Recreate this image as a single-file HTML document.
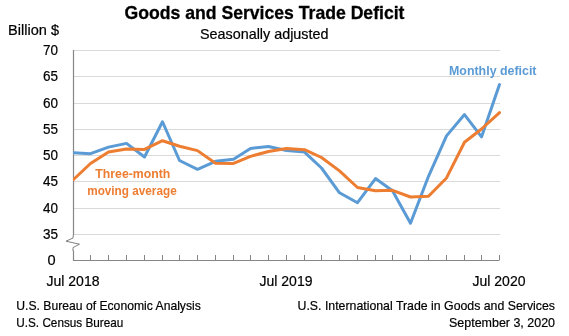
<!DOCTYPE html>
<html><head><meta charset="utf-8"><style>
html,body{margin:0;padding:0;background:#fff;width:569px;height:336px;overflow:hidden}
svg{display:block}
svg{will-change:transform}
</style></head><body>
<svg width="569" height="336" viewBox="0 0 569 336" font-family="Liberation Sans, sans-serif">
<rect width="569" height="336" fill="#fff"/>
<line x1="74" x2="500" y1="50.5" y2="50.5" stroke="#d9d9d9" stroke-width="1"/><line x1="74" x2="500" y1="76.5" y2="76.5" stroke="#d9d9d9" stroke-width="1"/><line x1="74" x2="500" y1="103.5" y2="103.5" stroke="#d9d9d9" stroke-width="1"/><line x1="74" x2="500" y1="129.5" y2="129.5" stroke="#d9d9d9" stroke-width="1"/><line x1="74" x2="500" y1="155.5" y2="155.5" stroke="#d9d9d9" stroke-width="1"/><line x1="74" x2="500" y1="181.5" y2="181.5" stroke="#d9d9d9" stroke-width="1"/><line x1="74" x2="500" y1="208.5" y2="208.5" stroke="#d9d9d9" stroke-width="1"/><line x1="74" x2="500" y1="234.5" y2="234.5" stroke="#d9d9d9" stroke-width="1"/>
<polyline fill="none" stroke="#868686" stroke-width="1.2" points="73.5,50 73.5,235"/><polyline fill="none" stroke="#868686" stroke-width="1.2" points="73.5,250.5 73.5,260.5 499.5,260.5"/><polyline fill="none" stroke="#808080" stroke-width="1" stroke-linejoin="round" points="73.4,234.6 73,238 66,241.2 79.5,244.2 73,247.6 73,251"/>
<line x1="90.5" x2="90.5" y1="255" y2="260" stroke="#868686" stroke-width="1"/><line x1="108.5" x2="108.5" y1="255" y2="260" stroke="#868686" stroke-width="1"/><line x1="126.5" x2="126.5" y1="255" y2="260" stroke="#868686" stroke-width="1"/><line x1="144.5" x2="144.5" y1="255" y2="260" stroke="#868686" stroke-width="1"/><line x1="162.5" x2="162.5" y1="255" y2="260" stroke="#868686" stroke-width="1"/><line x1="179.5" x2="179.5" y1="255" y2="260" stroke="#868686" stroke-width="1"/><line x1="197.5" x2="197.5" y1="255" y2="260" stroke="#868686" stroke-width="1"/><line x1="215.5" x2="215.5" y1="255" y2="260" stroke="#868686" stroke-width="1"/><line x1="233.5" x2="233.5" y1="255" y2="260" stroke="#868686" stroke-width="1"/><line x1="250.5" x2="250.5" y1="255" y2="260" stroke="#868686" stroke-width="1"/><line x1="268.5" x2="268.5" y1="255" y2="260" stroke="#868686" stroke-width="1"/><line x1="286.5" x2="286.5" y1="255" y2="260" stroke="#868686" stroke-width="1"/><line x1="304.5" x2="304.5" y1="255" y2="260" stroke="#868686" stroke-width="1"/><line x1="321.5" x2="321.5" y1="255" y2="260" stroke="#868686" stroke-width="1"/><line x1="339.5" x2="339.5" y1="255" y2="260" stroke="#868686" stroke-width="1"/><line x1="357.5" x2="357.5" y1="255" y2="260" stroke="#868686" stroke-width="1"/><line x1="375.5" x2="375.5" y1="255" y2="260" stroke="#868686" stroke-width="1"/><line x1="392.5" x2="392.5" y1="255" y2="260" stroke="#868686" stroke-width="1"/><line x1="410.5" x2="410.5" y1="255" y2="260" stroke="#868686" stroke-width="1"/><line x1="428.5" x2="428.5" y1="255" y2="260" stroke="#868686" stroke-width="1"/><line x1="446.5" x2="446.5" y1="255" y2="260" stroke="#868686" stroke-width="1"/><line x1="464.5" x2="464.5" y1="255" y2="260" stroke="#868686" stroke-width="1"/><line x1="481.5" x2="481.5" y1="255" y2="260" stroke="#868686" stroke-width="1"/><line x1="499.5" x2="499.5" y1="255" y2="260" stroke="#868686" stroke-width="1"/>
<defs><clipPath id="pa"><rect x="73" y="0" width="496" height="336"/></clipPath></defs><g clip-path="url(#pa)"><polyline fill="none" stroke="#5b9bd5" stroke-width="3" stroke-linejoin="round" stroke-linecap="round" points="73.50,152.68 90.50,153.70 108.50,147.11 126.50,143.36 144.50,157.02 162.50,121.74 179.50,160.50 197.50,169.30 215.50,161.34 233.50,159.28 250.50,148.44 268.50,146.56 286.50,150.46 304.50,152.12 321.50,168.00 339.50,192.80 357.50,202.70 375.50,178.58 392.50,190.70 410.50,223.20 428.50,176.30 446.50,135.88 464.50,114.54 481.50,136.90 499.50,84.58"/>
<polyline fill="none" stroke="#ed7d31" stroke-width="3" stroke-linejoin="round" stroke-linecap="round" points="73.50,179.50 90.50,163.50 108.50,152.00 126.50,148.90 144.50,149.40 162.50,140.71 179.50,146.26 197.50,150.60 215.50,163.33 233.50,163.40 250.50,156.36 268.50,151.43 286.50,148.49 304.50,149.71 321.50,157.50 339.50,170.90 357.50,187.50 375.50,190.78 392.50,190.31 410.50,196.98 428.50,196.22 446.50,177.94 464.50,142.24 481.50,129.00 499.50,112.60"/></g>
<text x="124.5" y="18.8" font-size="18.5" font-weight="bold" stroke="#000" stroke-width="0.3" fill="#000" textLength="280" lengthAdjust="spacingAndGlyphs" text-anchor="start">Goods and Services Trade Deficit</text><text x="200" y="39.1" font-size="14.5" stroke="#000" stroke-width="0.2" fill="#000" textLength="128.5" lengthAdjust="spacingAndGlyphs" text-anchor="start">Seasonally adjusted</text><text x="8" y="35.1" font-size="14" stroke="#000" stroke-width="0.2" fill="#000" textLength="51" lengthAdjust="spacingAndGlyphs" text-anchor="start">Billion $</text><text x="58" y="55.4" font-size="14" stroke="#000" stroke-width="0.2" fill="#000" textLength="15" lengthAdjust="spacingAndGlyphs" text-anchor="end">70</text><text x="58" y="81.4" font-size="14" stroke="#000" stroke-width="0.2" fill="#000" textLength="15" lengthAdjust="spacingAndGlyphs" text-anchor="end">65</text><text x="58" y="108.4" font-size="14" stroke="#000" stroke-width="0.2" fill="#000" textLength="15" lengthAdjust="spacingAndGlyphs" text-anchor="end">60</text><text x="58" y="134.4" font-size="14" stroke="#000" stroke-width="0.2" fill="#000" textLength="15" lengthAdjust="spacingAndGlyphs" text-anchor="end">55</text><text x="58" y="160.4" font-size="14" stroke="#000" stroke-width="0.2" fill="#000" textLength="15" lengthAdjust="spacingAndGlyphs" text-anchor="end">50</text><text x="58" y="186.4" font-size="14" stroke="#000" stroke-width="0.2" fill="#000" textLength="15" lengthAdjust="spacingAndGlyphs" text-anchor="end">45</text><text x="58" y="213.4" font-size="14" stroke="#000" stroke-width="0.2" fill="#000" textLength="15" lengthAdjust="spacingAndGlyphs" text-anchor="end">40</text><text x="58" y="239.4" font-size="14" stroke="#000" stroke-width="0.2" fill="#000" textLength="15" lengthAdjust="spacingAndGlyphs" text-anchor="end">35</text><text x="55.6" y="265.4" font-size="14" stroke="#000" stroke-width="0.2" fill="#000" textLength="8.1" lengthAdjust="spacingAndGlyphs" text-anchor="end">0</text><text x="73.0" y="285.9" font-size="14.5" stroke="#000" stroke-width="0.2" fill="#000" textLength="53" lengthAdjust="spacingAndGlyphs" text-anchor="middle">Jul 2018</text><text x="286.0" y="285.9" font-size="14.5" stroke="#000" stroke-width="0.2" fill="#000" textLength="53" lengthAdjust="spacingAndGlyphs" text-anchor="middle">Jul 2019</text><text x="499.0" y="285.9" font-size="14.5" stroke="#000" stroke-width="0.2" fill="#000" textLength="53" lengthAdjust="spacingAndGlyphs" text-anchor="middle">Jul 2020</text><text x="449" y="74.7" font-size="12.5" font-weight="bold" fill="#5b9bd5" textLength="87.5" lengthAdjust="spacingAndGlyphs" text-anchor="start">Monthly deficit</text><text x="95.3" y="177.5" font-size="12.5" font-weight="bold" fill="#ed7d31" textLength="75" lengthAdjust="spacingAndGlyphs" text-anchor="start">Three-month</text><text x="87.2" y="195.0" font-size="12.5" font-weight="bold" fill="#ed7d31" textLength="89.5" lengthAdjust="spacingAndGlyphs" text-anchor="start">moving average</text><text x="16.3" y="310" font-size="13" stroke="#000" stroke-width="0.2" fill="#000" textLength="184.5" lengthAdjust="spacingAndGlyphs" text-anchor="start">U.S. Bureau of Economic Analysis</text><text x="16.3" y="326.9" font-size="13" stroke="#000" stroke-width="0.2" fill="#000" textLength="107" lengthAdjust="spacingAndGlyphs" text-anchor="start">U.S. Census Bureau</text><text x="555" y="310" font-size="13" stroke="#000" stroke-width="0.2" fill="#000" textLength="257.5" lengthAdjust="spacingAndGlyphs" text-anchor="end">U.S. International Trade in Goods and Services</text><text x="555" y="326.9" font-size="13" stroke="#000" stroke-width="0.2" fill="#000" textLength="106" lengthAdjust="spacingAndGlyphs" text-anchor="end">September 3, 2020</text>
</svg>
</body></html>
